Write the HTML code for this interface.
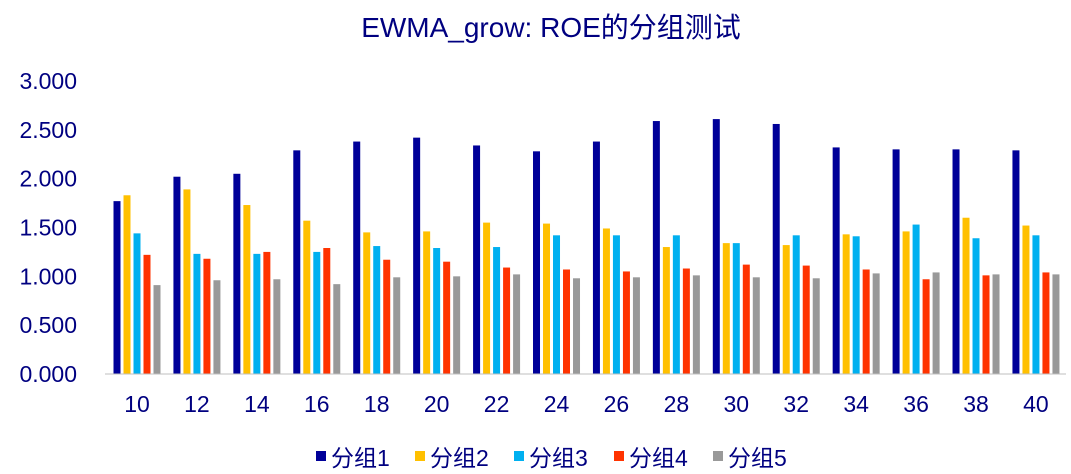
<!DOCTYPE html>
<html><head><meta charset="utf-8">
<style>
html,body{margin:0;padding:0;background:#fff;}
svg{display:block;font-family:"Liberation Sans","Noto Sans CJK SC",sans-serif;}
</style></head>
<body>
<svg id="chart" width="1071" height="474">
<text x="551" y="37" text-anchor="middle" font-size="28" fill="#000080">EWMA_grow: ROE的分组测试</text>
<g id="yaxis"></g>
<g id="bars"></g>
<g id="xaxis"></g>
<g id="legend"></g>
</svg>
<script>
const categories=["10","12","14","16","18","20","22","24","26","28","30","32","34","36","38","40"];
const series1=[1.77,2.02,2.05,2.29,2.38,2.42,2.34,2.28,2.38,2.59,2.61,2.56,2.32,2.30,2.30,2.29];
const series2=[1.83,1.89,1.73,1.57,1.45,1.46,1.55,1.54,1.49,1.30,1.34,1.32,1.43,1.46,1.60,1.52];
const series3=[1.44,1.23,1.23,1.25,1.31,1.29,1.30,1.42,1.42,1.42,1.34,1.42,1.41,1.53,1.39,1.42];
const series4=[1.22,1.18,1.25,1.29,1.17,1.15,1.09,1.07,1.05,1.08,1.12,1.11,1.07,0.97,1.01,1.04];
const series5=[0.91,0.96,0.97,0.92,0.99,1.00,1.02,0.98,0.99,1.01,0.99,0.98,1.03,1.04,1.02,1.02];
const seriesNames=["分组1","分组2","分组3","分组4","分组5"];
const yTicks=[0,0.5,1,1.5,2,2.5,3];
const allSeries=[series1,series2,series3,series4,series5];
const colors=["#000099","#FFC000","#00B0F0","#FF3300","#999999"];
const NS="http://www.w3.org/2000/svg";
const y0=374,yTop=81,yMax=3;
const yScale=v=>y0-(v/yMax)*(y0-yTop);
const xStart=137,xStep=59.93;
const xCenter=i=>xStart+i*xStep;
function mk(tag,attrs,parent){const e=document.createElementNS(NS,tag);for(const k in attrs)e.setAttribute(k,attrs[k]);parent.appendChild(e);return e;}
const ya=document.getElementById('yaxis');
yTicks.forEach(t=>{const e=mk('text',{x:77,y:yScale(t)+8,'text-anchor':'end','font-size':23,fill:'#000080'},ya);


e.textContent=t.toFixed(3);});
const bg=document.getElementById('bars');
const bw=7,bstep=10;
allSeries.forEach((s,si)=>{s.forEach((v,i)=>{
const x=xCenter(i)+(si-2)*bstep-bw/2;
const r=mk('rect',{x:x,y:yScale(v),width:bw,height:y0-yScale(v),fill:colors[si]},bg);


});});
const xa=document.getElementById('xaxis');
const ln=mk('line',{x1:105,x2:1066,y1:y0,y2:y0,stroke:'#bfbfbf','stroke-width':1},xa);


categories.forEach((c,i)=>{const e=mk('text',{x:xCenter(i),y:412,'text-anchor':'middle','font-size':23,fill:'#000080'},xa);


e.textContent=c;});
const lg=document.getElementById('legend');
const lx=[316,415,514,614,713];
seriesNames.forEach((n,i)=>{
const r=mk('rect',{x:lx[i],y:451,width:10,height:10,fill:colors[i]},lg);


const t=mk('text',{x:lx[i]+15,y:466,'font-size':23,fill:'#000080'},lg);


t.textContent=n;});
</script>
</body></html>
